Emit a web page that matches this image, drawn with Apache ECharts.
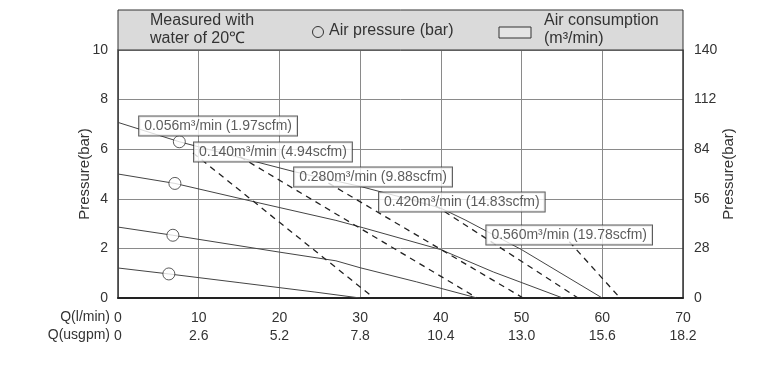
<!DOCTYPE html>
<html>
<head>
<meta charset="utf-8">
<script src="https://cdn.jsdelivr.net/npm/echarts@6/dist/echarts.min.js"></script>
<style>
html,body{margin:0;padding:0;background:#fff;}
#chart{width:768px;height:371px;}
</style>
</head>
<body>
<div id="chart"></div>
<script>
// ---- data ----
const qLmin = [0, 10, 20, 30, 40, 50, 60, 70];
const qUsgpm = ['0', '2.6', '5.2', '7.8', '10.4', '13.0', '15.6', '18.2'];
const leftTicks = [0, 2, 4, 6, 8, 10];
const rightTicks = [0, 28, 56, 84, 112, 140];

// pressure curves [Q l/min, bar]
const pressureA = [[0, 7.08], [7.6, 6.3], [17, 5.5], [22, 5.08], [30, 4.5], [37, 3.9], [40, 3.62], [43, 3.15], [50, 1.95], [60, 0]];
const pressureB = [[0, 5.0], [7.05, 4.62], [17, 3.87], [27, 3.13], [30.4, 2.83], [40, 1.95], [46.5, 1.05], [55.1, 0]];
const pressureC = [[0, 2.86], [6.8, 2.53], [20, 1.85], [27, 1.5], [30, 1.22], [37, 0.65], [44.5, 0]];
const pressureD = [[0, 1.21], [6.3, 0.97], [15, 0.62], [24.4, 0.24], [30, 0]];

// air pressure markers (circles)
const airPressureMarks = [[7.6, 6.3], [7.05, 4.62], [6.8, 2.53], [6.3, 0.97]];

// air consumption iso-lines
const cons056 = [[9.3, 5.85], [31.7, 0]];
const cons140 = [[15.1, 5.7], [44.5, 0]];
const cons280 = [[24.9, 4.86], [50.2, 0]];
const cons420 = [[39.3, 3.73], [57.0, 0]];
const cons560 = [[55.0, 2.6], [62.2, 0]];

const consumptionLabels = ['0.056m³/min (1.97scfm)', '0.140m³/min (4.94scfm)', '0.280m³/min (9.88scfm)', '0.420m³/min (14.83scfm)', '0.560m³/min (19.78scfm)'];
const consumptionLabelAnchors = [[12.4, 6.94], [19.2, 5.89], [31.6, 4.88], [42.6, 3.87], [55.9, 2.54]];

// ---- chart ----
const FONT = 'Liberation Sans, Arial, sans-serif';
const TXT = '#333';
const chart = echarts.init(document.getElementById('chart'), null, {renderer: 'canvas'});

function solid(data) {
  return {type: 'line', data: data, symbol: 'none', silent: true, z: 3,
    lineStyle: {color: '#444', width: 1}};
}
function dashed(data) {
  return {type: 'line', data: data, symbol: 'none', silent: true, z: 3,
    lineStyle: {color: '#222', width: 1.3, type: [6, 5]}};
}

const option = {
  animation: false,
  grid: {left: 118, right: 85, top: 50, bottom: 73, containLabel: false},
  xAxis: {
    type: 'value', min: qLmin[0], max: qLmin[qLmin.length - 1], interval: qLmin[1] - qLmin[0],
    axisLine: {show: true, lineStyle: {color: '#222', width: 2}},
    axisTick: {show: false},
    splitLine: {show: true, lineStyle: {color: '#8a8a8a', width: 1}},
    axisLabel: {
      formatter: function (v) { const i = qLmin.indexOf(v); return v + '\n' + qUsgpm[i]; },
      fontFamily: FONT, fontSize: 14, color: TXT, lineHeight: 18, margin: 11
    }
  },
  yAxis: [{
    type: 'value', min: leftTicks[0], max: leftTicks[leftTicks.length - 1], interval: leftTicks[1] - leftTicks[0],
    axisLine: {show: true, lineStyle: {color: '#333', width: 1.5}},
    axisTick: {show: false},
    splitLine: {show: true, lineStyle: {color: '#8a8a8a', width: 1}},
    axisLabel: {fontFamily: FONT, fontSize: 14, color: TXT, margin: 10},
    name: 'Pressure(bar)', nameLocation: 'middle', nameGap: 26, nameRotate: 90, nameMoveOverlap: false,
    nameTextStyle: {fontFamily: FONT, fontSize: 15, color: TXT}
  }, {
    type: 'value', position: 'right', min: rightTicks[0], max: rightTicks[rightTicks.length - 1], interval: rightTicks[1] - rightTicks[0],
    axisLine: {show: true, onZero: false, lineStyle: {color: '#333', width: 1.5}},
    axisTick: {show: false},
    splitLine: {show: false},
    axisLabel: {fontFamily: FONT, fontSize: 14, color: TXT, margin: 11},
    name: 'Pressure(bar)', nameLocation: 'middle', nameGap: 38, nameRotate: 90, nameMoveOverlap: false,
    nameTextStyle: {fontFamily: FONT, fontSize: 15, color: TXT}
  }],
  series: [
    solid(pressureA), solid(pressureB), solid(pressureC), solid(pressureD),
    dashed(cons056), dashed(cons140), dashed(cons280), dashed(cons420), dashed(cons560),
    {
      type: 'scatter', data: airPressureMarks, symbol: 'circle', symbolSize: 12, z: 5, silent: true,
      itemStyle: {color: '#fff', borderColor: '#333', borderWidth: 1}
    },
    {
      type: 'scatter', data: consumptionLabelAnchors, symbolSize: 1, z: 10, silent: true,
      itemStyle: {color: 'rgba(0,0,0,0)'},
      label: {
        show: true, position: 'inside',
        formatter: function (p) { return consumptionLabels[p.dataIndex]; },
        fontFamily: FONT, fontSize: 14, color: TXT,
        backgroundColor: '#fff', borderColor: '#333', borderWidth: 1,
        padding: [3, 5, 2, 5]
      }
    }
  ],
  graphic: [
    {type: 'rect', z: 1, shape: {x: 118, y: 10, width: 565, height: 40},
      style: {fill: '#dadada', stroke: '#333', lineWidth: 1}},
    {type: 'text', z: 2, left: 150, top: 12,
      style: {text: 'Measured with\nwater of 20℃', font: '16px ' + FONT, fill: TXT, lineHeight: 18}},
    {type: 'circle', z: 2, shape: {cx: 318, cy: 32, r: 5.5},
      style: {fill: 'none', stroke: '#333', lineWidth: 1}},
    {type: 'text', z: 2, left: 329, top: 23,
      style: {text: 'Air pressure (bar)', font: '16px ' + FONT, fill: TXT}},
    {type: 'rect', z: 2, shape: {x: 499, y: 27, width: 32, height: 11},
      style: {fill: '#e4e4e4', stroke: '#333', lineWidth: 1}},
    {type: 'text', z: 2, left: 544, top: 12,
      style: {text: 'Air consumption\n(m³/min)', font: '16px ' + FONT, fill: TXT, lineHeight: 18}},
    {type: 'text', z: 2, right: 768 - 110, top: 310,
      style: {text: 'Q(l/min)', font: '14px ' + FONT, fill: TXT, textAlign: 'right'}},
    {type: 'text', z: 2, right: 768 - 110, top: 328,
      style: {text: 'Q(usgpm)', font: '14px ' + FONT, fill: TXT, textAlign: 'right'}}
  ]
};
chart.setOption(option);
</script>
</body>
</html>
